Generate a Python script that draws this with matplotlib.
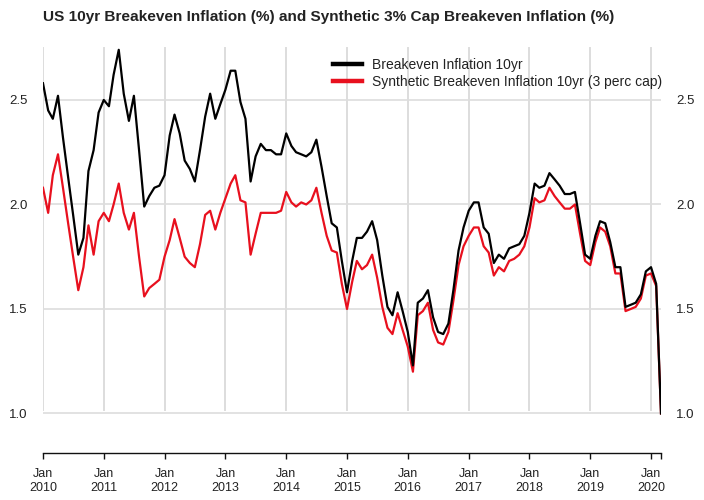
import matplotlib
matplotlib.use("Agg")
import matplotlib.pyplot as plt
import pandas as pd

plt.rcParams['font.family'] = ['Liberation Sans', 'DejaVu Sans']

start = "2010-01-01"
breakeven = [
    2.58, 2.45, 2.41, 2.52, 2.32, 2.13, 1.95, 1.76, 1.84, 2.16, 2.26, 2.44,
    2.50, 2.47, 2.62, 2.74, 2.53, 2.40, 2.52, 2.26, 1.99, 2.04, 2.08, 2.09,
    2.14, 2.33, 2.43, 2.34, 2.21, 2.17, 2.11, 2.26, 2.42, 2.53, 2.41, 2.48,
    2.55, 2.64, 2.64, 2.49, 2.41, 2.11, 2.23, 2.29, 2.26, 2.26, 2.24, 2.24,
    2.34, 2.28, 2.25, 2.24, 2.23, 2.25, 2.31, 2.18, 2.04, 1.91, 1.89, 1.73,
    1.58, 1.73, 1.84, 1.84, 1.87, 1.92, 1.83, 1.66, 1.51, 1.47, 1.58, 1.49,
    1.39, 1.23, 1.53, 1.55, 1.59, 1.46, 1.39, 1.38, 1.43, 1.59, 1.78, 1.89,
    1.97, 2.01, 2.01, 1.89, 1.86, 1.72, 1.76, 1.74, 1.79, 1.80, 1.81, 1.85,
    1.96, 2.10, 2.08, 2.09, 2.15, 2.12, 2.09, 2.05, 2.05, 2.06, 1.91, 1.76,
    1.74, 1.85, 1.92, 1.91, 1.82, 1.70, 1.70, 1.51, 1.52, 1.53, 1.57, 1.68,
    1.70, 1.62, 1.00,
]
synthetic = [
    2.08, 1.96, 2.14, 2.24, 2.08, 1.91, 1.75, 1.59, 1.70, 1.90, 1.76, 1.92,
    1.96, 1.92, 2.00, 2.10, 1.96, 1.88, 1.96, 1.75, 1.56, 1.60, 1.62, 1.64,
    1.75, 1.83, 1.93, 1.84, 1.75, 1.72, 1.70, 1.81, 1.95, 1.97, 1.88, 1.96,
    2.03, 2.10, 2.14, 2.02, 2.01, 1.76, 1.86, 1.96, 1.96, 1.96, 1.96, 1.97,
    2.06, 2.01, 1.99, 2.01, 2.00, 2.02, 2.08, 1.96, 1.85, 1.78, 1.77, 1.62,
    1.50, 1.63, 1.73, 1.69, 1.71, 1.76, 1.65, 1.51, 1.41, 1.38, 1.48, 1.40,
    1.32, 1.20, 1.47, 1.49, 1.53, 1.40, 1.34, 1.33, 1.39, 1.54, 1.71, 1.80,
    1.85, 1.89, 1.89, 1.80, 1.77, 1.66, 1.70, 1.68, 1.73, 1.74, 1.76, 1.80,
    1.89, 2.03, 2.01, 2.02, 2.08, 2.04, 2.01, 1.98, 1.98, 2.00, 1.86, 1.73,
    1.71, 1.82, 1.89, 1.87, 1.80, 1.67, 1.67, 1.49, 1.50, 1.51, 1.55, 1.66,
    1.67, 1.61, 1.00,
]
labels = ["Breakeven Inflation 10yr", "Synthetic Breakeven Inflation 10yr (3 perc cap)"]
title = "US 10yr Breakeven Inflation (%) and Synthetic 3% Cap Breakeven Inflation (%)"
y_ticks = [1.0, 1.5, 2.0, 2.5]
years = list(range(2010, 2021))

dates = pd.date_range(start, periods=len(breakeven), freq="MS")

W, H = 704, 500
fig = plt.figure(figsize=(W / 100, H / 100), dpi=100)
left, right, top, bottom = 43, 661, 45, 453
ax = fig.add_axes([left / W, 1 - bottom / H, (right - left) / W, (bottom - top) / H])

ax.set_xlim(dates[0], dates[-1])
ax.set_ylim(0.811, 2.763)

grid_c = "#dddddd"
for y in y_ticks:
    ax.axhline(y, color=grid_c, lw=1.2, zorder=0)
for yr in years:
    ax.axvline(pd.Timestamp(f"{yr}-01-01"), ymin=0.105, ymax=0.993, color=grid_c, lw=1.4, zorder=0)

ax.plot(dates, breakeven, color="black", lw=1.6, label=labels[0], zorder=3)
ax.plot(dates, synthetic, color="#e8101e", lw=1.6, label=labels[1], zorder=2)

# x axis
xt = [pd.Timestamp(f"{yr}-01-01") for yr in years] + [dates[-1]]
ax.set_xticks(xt)
ax.set_xticklabels([f"Jan\n{yr}" for yr in years] + [""])
ax.tick_params(axis="x", direction="out", length=4.5, width=1, pad=6,
               labelsize=9, colors="#111111", labelcolor="#222222")
for lab in ax.get_xticklabels():
    lab.set_linespacing(1.3)

ax.set_yticks(y_ticks)
ax.set_yticklabels([f"{v:.1f}" for v in y_ticks])
ax.tick_params(axis="y", length=0, pad=11, labelsize=9.5, labelcolor="#222222",
               labelleft=True, labelright=True)

for s in ["top", "left", "right"]:
    ax.spines[s].set_visible(False)
ax.spines["bottom"].set_linewidth(1.0)
ax.spines["bottom"].set_color("#111111")

leg = ax.legend(loc="upper left", bbox_to_anchor=(0.469, 0.968), frameon=False,
                borderaxespad=0, borderpad=0, fontsize=10, handlelength=2.1,
                handletextpad=0.75, labelspacing=0.22)
for l in leg.get_lines():
    l.set_linewidth(3.2)
for t in leg.get_texts():
    t.set_color("#222222")

fig.text(43 / W, 1 - 17 / H, title, fontsize=11.1, fontweight="bold", va="center",
         ha="left", color="#222222")

fig.savefig("out.png", dpi=100, facecolor="white")
